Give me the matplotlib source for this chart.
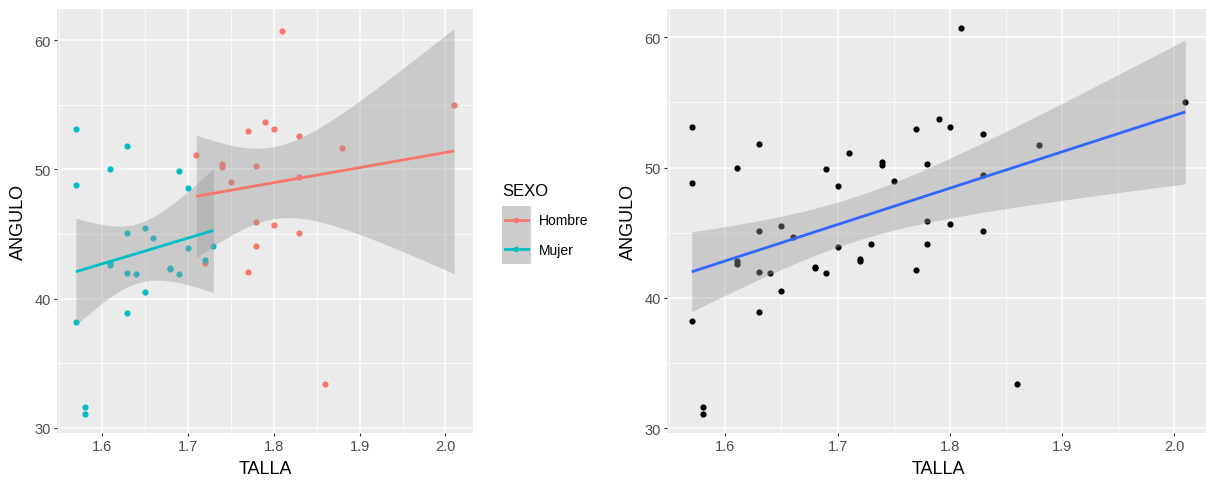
import math
import numpy as np
import matplotlib
matplotlib.use("Agg")
import matplotlib.pyplot as plt
from matplotlib.lines import Line2D
from matplotlib.patches import Rectangle

plt.rcParams['font.family'] = ['Liberation Sans', 'DejaVu Sans']

# ---------------- data ----------------
talla_mujer = [1.57, 1.57, 1.57, 1.58, 1.58, 1.61, 1.61, 1.61, 1.63, 1.63, 1.63, 1.63,
               1.64, 1.65, 1.65, 1.66, 1.68, 1.68, 1.69, 1.69, 1.70, 1.70, 1.72, 1.73]
angulo_mujer = [53.1, 48.8, 38.2, 31.6, 31.1, 50.0, 42.8, 42.6, 51.8, 45.1, 42.0, 38.9,
                41.9, 45.5, 40.5, 44.7, 42.4, 42.3, 49.9, 41.9, 48.6, 43.9, 43.0, 44.1]
talla_hombre = [1.71, 1.72, 1.74, 1.74, 1.75, 1.77, 1.77, 1.78, 1.78, 1.78, 1.79, 1.80,
                1.80, 1.81, 1.83, 1.83, 1.83, 1.86, 1.88, 2.01]
angulo_hombre = [51.1, 42.8, 50.4, 50.2, 49.0, 53.0, 42.1, 50.3, 45.9, 44.1, 53.7, 53.1,
                 45.7, 60.7, 52.6, 49.4, 45.1, 33.4, 51.7, 55.0]
groups = ['Hombre', 'Mujer']
group_colors = {'Hombre': '#F8766D', 'Mujer': '#00BFC4'}
x_ticks = [1.6, 1.7, 1.8, 1.9, 2.0]
y_ticks = [30, 40, 50, 60]

# --------------- helpers ---------------
def t_crit(df, p=0.975):
    c = math.gamma((df + 1) / 2) / (math.sqrt(df * math.pi) * math.gamma(df / 2))
    def cdf(t):
        xs = np.linspace(0, t, 4001)
        ys = c * (1 + xs ** 2 / df) ** (-(df + 1) / 2)
        return 0.5 + np.trapezoid(ys, xs)
    lo, hi = 0.0, 10.0
    for _ in range(60):
        mid = (lo + hi) / 2
        if cdf(mid) < p:
            lo = mid
        else:
            hi = mid
    return (lo + hi) / 2

def lm_fit(x, y, n_out=80):
    x = np.asarray(x, float); y = np.asarray(y, float)
    n = len(x)
    b, a = np.polyfit(x, y, 1)
    resid = y - (a + b * x)
    s = math.sqrt(np.sum(resid ** 2) / (n - 2))
    xbar = x.mean(); sxx = np.sum((x - xbar) ** 2)
    xs = np.linspace(x.min(), x.max(), n_out)
    yhat = a + b * xs
    se = s * np.sqrt(1 / n + (xs - xbar) ** 2 / sxx)
    tc = t_crit(n - 2)
    return xs, yhat, yhat - tc * se, yhat + tc * se

def style(ax):
    ax.set_facecolor('#EBEBEB')
    for sp in ax.spines.values():
        sp.set_visible(False)
    ax.set_xticks(x_ticks)
    ax.set_xticklabels([f'{v:.1f}' for v in x_ticks])
    ax.set_xticks([v + 0.05 for v in x_ticks[:-1]] + [x_ticks[0] - 0.05], minor=True)
    ax.set_yticks(y_ticks)
    ax.set_yticks([v + 5 for v in y_ticks[:-1]], minor=True)
    ax.grid(which='major', color='white', linewidth=1.1, zorder=0)
    ax.grid(which='minor', color='white', linewidth=0.55, zorder=0)
    ax.set_axisbelow(True)
    ax.tick_params(which='major', length=2.5, width=0.8, color='#333333',
                   labelsize=10.5, labelcolor='#4D4D4D', pad=2)
    ax.tick_params(which='minor', length=0)
    ax.set_xlabel('TALLA', fontsize=13, color='black', labelpad=5)
    ax.set_ylabel('ANGULO', fontsize=13, color='black', labelpad=5)

def expand(lo, hi, f=0.05):
    r = hi - lo
    return lo - f * r, hi + f * r

class KeyHandler:
    """ggplot-like legend key: grey band box with a centred line and dot."""
    def legend_artist(self, legend, orig_handle, fontsize, handlebox):
        x0, y0 = -handlebox.xdescent, -handlebox.ydescent
        w, h = handlebox.width, handlebox.height
        tr = handlebox.get_transform()
        col = orig_handle.get_color()
        rect = Rectangle((x0, y0), w, h, facecolor='#CCCCCC', edgecolor='none', transform=tr)
        ln = Line2D([x0 + 0.1 * w, x0 + 0.9 * w], [y0 + h / 2] * 2, color=col,
                    linewidth=2.0, transform=tr)
        dot = Line2D([x0 + w / 2], [y0 + h / 2], color=col, marker='o', markersize=4,
                     markeredgewidth=0, linestyle='none', transform=tr)
        for a in (rect, ln, dot):
            handlebox.add_artist(a)
        return rect

W, H = 1206, 481
fig = plt.figure(figsize=(W / 100, H / 100), dpi=100)
fig.patch.set_facecolor('white')

def px_axes(l, t, r, b):
    return fig.add_axes([l / W, 1 - b / H, (r - l) / W, (b - t) / H])

axL = px_axes(57, 10, 473, 434)
axR = px_axes(667, 10, 1210, 434)

band_color = '#999999'
band_alpha = 0.4

# --------------- left panel ---------------
data = {'Hombre': (talla_hombre, angulo_hombre), 'Mujer': (talla_mujer, angulo_mujer)}
ymins, ymaxs = [], []
for g in groups:
    x, y = data[g]
    axL.scatter(x, y, s=20, color=group_colors[g], linewidths=0, zorder=2)
for g in groups:
    x, y = data[g]
    xs, yh, lo, hi = lm_fit(x, y)
    axL.fill_between(xs, lo, hi, color=band_color, alpha=band_alpha, linewidth=0, zorder=3)
    axL.plot(xs, yh, color=group_colors[g], linewidth=2.0, zorder=4, solid_capstyle='butt')
    ymins += [lo.min(), min(y)]; ymaxs += [hi.max(), max(y)]
all_x = talla_mujer + talla_hombre
all_y = angulo_mujer + angulo_hombre
axL.set_xlim(*expand(min(all_x), max(all_x)))
axL.set_ylim(*expand(min(ymins), max(ymaxs)))
style(axL)

# --------------- right panel ---------------
axR.scatter(all_x, all_y, s=20, color='black', linewidths=0, zorder=2)
xs, yh, lo, hi = lm_fit(all_x, all_y)
axR.fill_between(xs, lo, hi, color=band_color, alpha=band_alpha, linewidth=0, zorder=3)
axR.plot(xs, yh, color='#3366FF', linewidth=2.0, zorder=4, solid_capstyle='butt')
axR.set_xlim(*expand(min(all_x), max(all_x)))
axR.set_ylim(*expand(min(min(all_y), lo.min()), max(max(all_y), hi.max())))
style(axR)

# --------------- legend ---------------
handles = [Line2D([], [], color=group_colors[g]) for g in groups]
leg = fig.legend(handles, groups, loc='upper left',
                 bbox_to_anchor=(492 / W, 1 - 197 / H), frameon=False,
                 handler_map={Line2D: KeyHandler()},
                 handlelength=2.1, handleheight=2.85, labelspacing=0.0,
                 handletextpad=0.6, fontsize=10, borderpad=0.2)
fig.text(502 / W, 1 - 191 / H, 'SEXO', fontsize=12, ha='left', va='center')

fig.savefig('out.png', dpi=100, facecolor='white')
